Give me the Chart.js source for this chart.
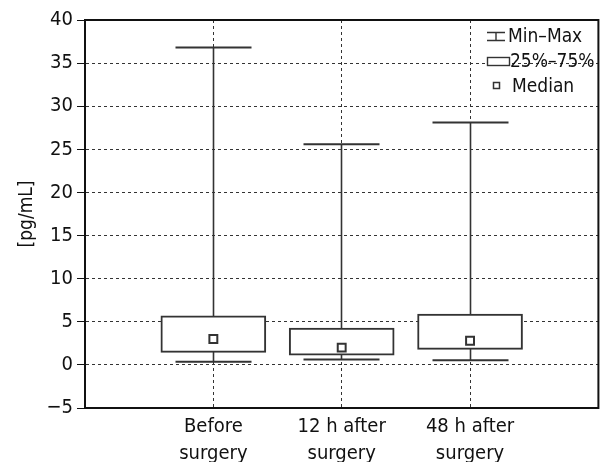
<!DOCTYPE html>
<html><head><meta charset="utf-8">
<script src="https://cdn.jsdelivr.net/npm/chart.js@4.4.0/dist/chart.umd.min.js"></script>
<style>html,body{margin:0;padding:0;background:#fff}#wrap{width:606px;height:462px}</style>
</head><body><div id="wrap"><canvas id="c"></canvas></div>
<script>
const categories = [['Before','surgery'], ['12 h after','surgery'], ['48 h after','surgery']];
const minValues = [0.35, 0.62, 0.55];
const q1Values = [1.45, 1.13, 1.8];
const medianValues = [3.0, 2.0, 2.8];
const q3Values = [5.7, 4.27, 5.9];
const maxValues = [36.8, 25.6, 28.1];
const yTicks = [-5, 0, 5, 10, 15, 20, 25, 30, 35, 40];
const legendLabels = ['Min\u2013Max', '25%\u201375%', 'Median'];

const FONT = '"DejaVu Sans Condensed", "Liberation Sans Narrow", sans-serif';
const INK = '#333';
const TXT = '#111';
const labels = [''].concat(categories, ['']);
const boxData = [null].concat(q1Values.map((q, i) => [q, q3Values[i]]), [null]);
const medData = [null].concat(medianValues, [null]);

const whiskerPlugin = {
  id: 'whiskers',
  beforeDatasetsDraw(chart) {
    const ctx = chart.ctx, xs = chart.scales.x, ys = chart.scales.y;
    ctx.save();
    ctx.strokeStyle = INK;
    for (let i = 0; i < minValues.length; i++) {
      const x = Math.round(xs.getPixelForValue(i + 1) - 0.5) + 0.5;
      const yMin = ys.getPixelForValue(minValues[i]);
      const yMax = ys.getPixelForValue(maxValues[i]);
      ctx.lineWidth = 1.6;
      ctx.beginPath(); ctx.moveTo(x, yMin); ctx.lineTo(x, yMax); ctx.stroke();
      ctx.lineWidth = 2;
      const hw = 38;
      ctx.beginPath();
      ctx.moveTo(x - hw, yMin); ctx.lineTo(x + hw, yMin);
      ctx.moveTo(x - hw, yMax); ctx.lineTo(x + hw, yMax);
      ctx.stroke();
    }
    ctx.restore();
  },
  afterDraw(chart) {
    const ctx = chart.ctx, a = chart.chartArea;
    ctx.save();
    ctx.strokeStyle = '#111';
    ctx.lineWidth = 2;
    ctx.strokeRect(a.left, a.top, a.right - a.left, a.bottom - a.top);
    ctx.strokeStyle = INK;
    ctx.fillStyle = '#fff';
    ctx.lineWidth = 1.4;
    ctx.beginPath();
    ctx.moveTo(487, 32.5); ctx.lineTo(505, 32.5);
    ctx.moveTo(487, 40.5); ctx.lineTo(505, 40.5);
    ctx.moveTo(496, 32.5); ctx.lineTo(496, 40.5);
    ctx.stroke();
    ctx.fillRect(487.5, 57.5, 22, 8);
    ctx.strokeRect(487.5, 57.5, 22, 8);
    ctx.lineWidth = 1.5;
    ctx.fillRect(493.5, 82.5, 6, 6);
    ctx.strokeRect(493.5, 82.5, 6, 6);
    ctx.fillStyle = TXT;
    ctx.font = '19px ' + FONT;
    ctx.textBaseline = 'middle';
    ctx.textAlign = 'left';
    ctx.fillText(legendLabels[0], 508, 37);
    ctx.fillText(legendLabels[1], 510, 62);
    ctx.fillText(legendLabels[2], 512, 87);
    ctx.restore();
  }
};

new Chart(document.getElementById('c'), {
  type: 'bar',
  data: {
    labels: labels,
    datasets: [
      {
        type: 'line', data: medData, showLine: false, order: 1,
        pointStyle: 'rect', pointRadius: 5.6, pointHoverRadius: 5.6,
        pointBackgroundColor: '#fff', pointBorderColor: INK, pointBorderWidth: 2
      },
      {
        type: 'bar', data: boxData, order: 2,
        backgroundColor: '#fff', borderColor: INK, borderWidth: 2,
        barThickness: 105, borderSkipped: false
      }
    ]
  },
  plugins: [whiskerPlugin],
  options: {
    responsive: true, maintainAspectRatio: false, animation: false,
    layout: { padding: { left: 12, right: 5, top: 20, bottom: 0 } },
    plugins: { legend: { display: false }, tooltip: { enabled: false } },
    scales: {
      x: {
        type: 'category', offset: false,
        grid: { color: INK, lineWidth: 1, drawTicks: false, offset: false },
        border: { display: true, color: '#111', width: 2, dash: [3, 3] },
        ticks: { color: TXT, font: { family: FONT, size: 20, lineHeight: 1.35 }, padding: 5, maxRotation: 0, autoSkip: false },
        afterFit(s) { s.height = 54; }
      },
      y: {
        min: -5, max: 40,
        afterBuildTicks(s) { s.ticks = yTicks.map(v => ({ value: v })); },
        grid: { color: INK, lineWidth: 1, tickLength: 8, tickColor: '#111', tickBorderDash: [] },
        border: { display: true, color: '#111', width: 2, dash: [3, 3] },
        ticks: { color: TXT, font: { family: FONT, size: 20 }, padding: 4,
          callback: v => String(v).replace('-', '\u2212') },
        title: { display: true, text: '[pg/mL]', color: TXT, font: { family: FONT, size: 19 }, padding: 4 },
        afterFit(s) { s.width = 73; }
      }
    }
  }
});
</script></body></html>
